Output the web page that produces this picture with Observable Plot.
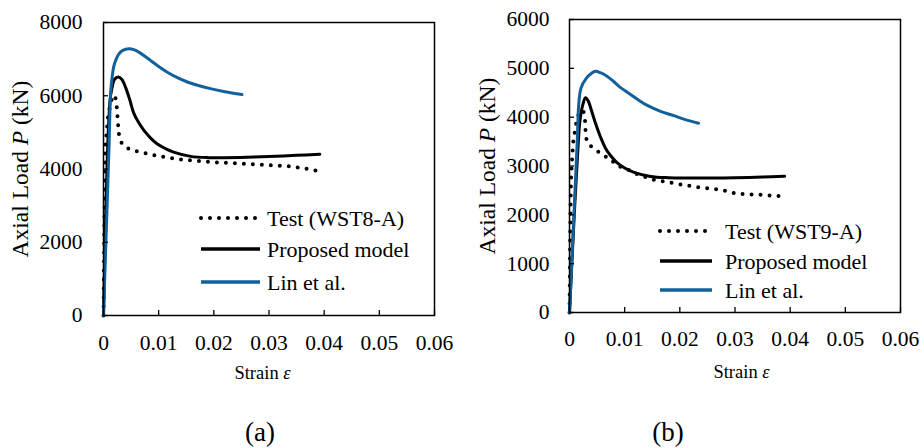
<!DOCTYPE html>
<html>
<head>
<meta charset="utf-8">
<script src="https://cdn.jsdelivr.net/npm/d3@7"></script>
<script src="https://cdn.jsdelivr.net/npm/@observablehq/plot@0.6"></script>
<style>
  html, body { margin: 0; padding: 0; background: #fff; }
  #wrap { position: relative; width: 921px; height: 448px; font-family: "Liberation Serif", serif; }
  .panel { position: absolute; top: 0; }
  .cap { position: absolute; font-size: 27px; line-height: 30px; width: 80px; text-align: center; color: #000; }
</style>
</head>
<body>
<div id="wrap"></div>
<script>
// Axis ticks
const strainTicks = [0, 0.01, 0.02, 0.03, 0.04, 0.05, 0.06];
const loadTicksA = [0, 2000, 4000, 6000, 8000];
const loadTicksB = [0, 1000, 2000, 3000, 4000, 5000, 6000];

// Specimen WST8-A: [strain, axial load (kN)]
const testA = [
  [0, 0], [0.0001, 1500], [0.0002, 3000], [0.0003, 4000], [0.0004, 4700],
  [0.0006, 5050], [0.0008, 5400], [0.0012, 5750], [0.0016, 5950], [0.0021, 6010],
  [0.0024, 5700], [0.0026, 5300], [0.0028, 4950], [0.0032, 4730], [0.0042, 4580],
  [0.0055, 4500], [0.0073, 4440], [0.0100, 4350], [0.0140, 4260], [0.0206, 4180],
  [0.0272, 4130], [0.0339, 4070], [0.0370, 4000], [0.0393, 3930]
];
const modelA = [
  [0, 0], [0.0012, 5900], [0.0016, 6250], [0.0020, 6450], [0.0027, 6510],
  [0.0033, 6450], [0.0040, 6230], [0.0048, 5870], [0.0055, 5520], [0.0064, 5260],
  [0.0073, 5060], [0.0085, 4850], [0.0097, 4690], [0.0112, 4560], [0.0127, 4460],
  [0.0158, 4345], [0.0190, 4310], [0.0220, 4310], [0.0260, 4320], [0.0300, 4340],
  [0.0350, 4375], [0.0392, 4400]
];
const linA = [
  [0, 0], [0.0010, 4600], [0.0013, 6100], [0.0016, 6550], [0.0019, 6820],
  [0.0023, 7000], [0.0028, 7145], [0.0035, 7240], [0.0046, 7285], [0.0055, 7260],
  [0.0064, 7190], [0.0075, 7080], [0.0085, 6965], [0.0100, 6800], [0.0115, 6650],
  [0.0133, 6500], [0.0152, 6375], [0.0172, 6280], [0.0194, 6195], [0.0220, 6110],
  [0.0251, 6034]
];

// Specimen WST9-A
const testB = [
  [0, 0], [0.0001, 1200], [0.0002, 2300], [0.0003, 2800], [0.0005, 3200],
  [0.0007, 3520], [0.0010, 3730], [0.0014, 4000], [0.0019, 4100], [0.0025, 4140],
  [0.0028, 3960], [0.0029, 3730], [0.0031, 3520], [0.0037, 3420], [0.0049, 3320],
  [0.0062, 3215], [0.0074, 3140], [0.0086, 3010], [0.0105, 2930], [0.0125, 2820],
  [0.0153, 2717], [0.0195, 2635], [0.0231, 2567], [0.0262, 2533], [0.0286, 2485],
  [0.0304, 2430], [0.0346, 2410], [0.0392, 2376]
];
const modelB = [
  [0, 0], [0.0010, 2300], [0.0016, 3500], [0.0019, 3930], [0.0024, 4250],
  [0.0029, 4400], [0.0034, 4330], [0.0040, 4130], [0.0047, 3880], [0.0056, 3600],
  [0.0065, 3370], [0.0074, 3220], [0.0085, 3080], [0.0100, 2960], [0.0117, 2870],
  [0.0147, 2785], [0.0180, 2760], [0.0210, 2755], [0.0260, 2755], [0.0300, 2760],
  [0.0350, 2775], [0.0390, 2790]
];
const linB = [
  [0, 0], [0.0008, 2000], [0.0014, 3500], [0.0017, 4300], [0.0021, 4600],
  [0.0030, 4790], [0.0040, 4900], [0.0047, 4940], [0.0056, 4910], [0.0068, 4840],
  [0.0080, 4730], [0.0092, 4610], [0.0110, 4470], [0.0125, 4350], [0.0141, 4240],
  [0.0165, 4120], [0.0189, 4030], [0.0210, 3950], [0.0234, 3877]
];

const seriesNames = ["Test (WST8-A)", "Test (WST9-A)", "Proposed model", "Lin et al."];
const blue = "#12609c";
const font = "Liberation Serif";

function italicize(svg, plain, before, ital, after) {
  d3.select(svg).selectAll("text").each(function () {
    if (this.textContent === plain) {
      const t = d3.select(this);
      t.text(null);
      t.append("tspan").text(before);
      t.append("tspan").attr("font-style", "italic").text(ital);
      if (after) t.append("tspan").text(after);
    }
  });
}

function panel(cfg) {
  const fw = cfg.width - cfg.ml - cfg.mr;
  const fh = cfg.height - cfg.mt - cfg.mb;
  const svg = Plot.plot({
    width: cfg.width,
    height: cfg.height,
    marginLeft: cfg.ml,
    marginRight: cfg.mr,
    marginTop: cfg.mt,
    marginBottom: cfg.mb,
    style: { fontFamily: font, background: "white", color: "black" },
    x: { domain: [0, 0.06] },
    y: { domain: [0, cfg.ymax] },
    marks: [
      Plot.line(cfg.test, { x: d => d[0], y: d => d[1], stroke: "black", strokeWidth: 4, strokeDasharray: "0 9", strokeLinecap: "round" }),
      Plot.line(cfg.model, { x: d => d[0], y: d => d[1], stroke: "black", strokeWidth: 3, curve: "catmull-rom" }),
      Plot.line(cfg.lin, { x: d => d[0], y: d => d[1], stroke: blue, strokeWidth: 3, curve: "catmull-rom" }),
      Plot.tickX(strainTicks, { x: d => d, insetTop: fh - 5, stroke: "black", strokeWidth: 1.3 }),
      Plot.tickY(cfg.yticks, { y: d => d, insetRight: fw - 5, stroke: "black", strokeWidth: 1.3 }),
      Plot.frame({ stroke: "black", strokeWidth: 1.5 }),
      Plot.axisX({ ticks: strainTicks, tickSize: 0, tickPadding: cfg.xpad, fontSize: 21.5, label: null,
        tickFormat: d => d === 0 ? "0" : d.toFixed(2) }),
      Plot.axisY({ ticks: cfg.yticks, tickSize: 0, tickPadding: cfg.ypad, fontSize: 21.5, label: null,
        tickFormat: d => String(d) }),
      Plot.text(["Axial Load P (kN)"], { text: d => d, frameAnchor: "left", textAnchor: "middle", lineAnchor: "middle",
        rotate: -90, dx: cfg.ylabDx, fontSize: 23.5 }),
      Plot.text(["Strain ε"], { text: d => d, frameAnchor: "bottom", textAnchor: "middle", lineAnchor: "middle",
        dx: cfg.xlabDx, dy: cfg.xlabDy, fontSize: 18.5 })
    ]
  });
  italicize(svg, "Axial Load P (kN)", "Axial Load ", "P", " (kN)");
  italicize(svg, "Strain ε", "Strain ", "ε", "");

  // legend
  const g = d3.select(svg).append("g")
    .attr("font-size", 22).attr("text-anchor", "start");
  const rows = [
    { name: cfg.testName, stroke: "black", w: 4, dash: "0 9", cap: "round" },
    { name: seriesNames[2], stroke: "black", w: 3.5, dash: null, cap: "butt" },
    { name: seriesNames[3], stroke: blue, w: 3.5, dash: null, cap: "butt" }
  ];
  rows.forEach((r, i) => {
    const y = cfg.legY[i];
    g.append("line")
      .attr("x1", cfg.legX1).attr("x2", cfg.legX2).attr("y1", y).attr("y2", y)
      .attr("stroke", r.stroke).attr("stroke-width", r.w)
      .attr("stroke-dasharray", r.dash).attr("stroke-linecap", r.cap);
    g.append("text").attr("x", cfg.legTx).attr("y", y).attr("dy", "0.35em").text(r.name);
  });

  // serif face on every label
  d3.select(svg).attr("font-family", font);
  d3.select(svg).selectAll("g, text").attr("font-family", font).style("font-family", font);
  return svg;
}

const wrap = document.getElementById("wrap");

const pa = panel({
  width: 460, height: 395, ml: 103, mr: 26, mt: 22, mb: 80, ymax: 8000, yticks: loadTicksA,
  test: testA, model: modelA, lin: linA, testName: seriesNames[0],
  xpad: 19, ypad: 21, ylabDx: -83, xlabDx: -6.5, xlabDy: 58,
  legX1: 201, legX2: 260, legTx: 267, legY: [218, 249, 282]
});
const pb = panel({
  width: 461, height: 395, ml: 109, mr: 21, mt: 19, mb: 83, ymax: 6000, yticks: loadTicksB,
  test: testB, model: modelB, lin: linB, testName: seriesNames[1],
  xpad: 18, ypad: 20, ylabDx: -82, xlabDx: 6.5, xlabDy: 60,
  legX1: 200, legX2: 252, legTx: 265, legY: [231, 261, 290]
});

[[pa, 0], [pb, 460]].forEach(([svg, left]) => {
  const d = document.createElement("div");
  d.className = "panel";
  d.style.left = left + "px";
  d.appendChild(svg);
  wrap.appendChild(d);
});

[["(a)", 220], ["(b)", 628]].forEach(([t, left]) => {
  const c = document.createElement("div");
  c.className = "cap";
  c.style.left = left + "px";
  c.style.top = "417px";
  c.textContent = t;
  wrap.appendChild(c);
});
</script>
</body>
</html>
